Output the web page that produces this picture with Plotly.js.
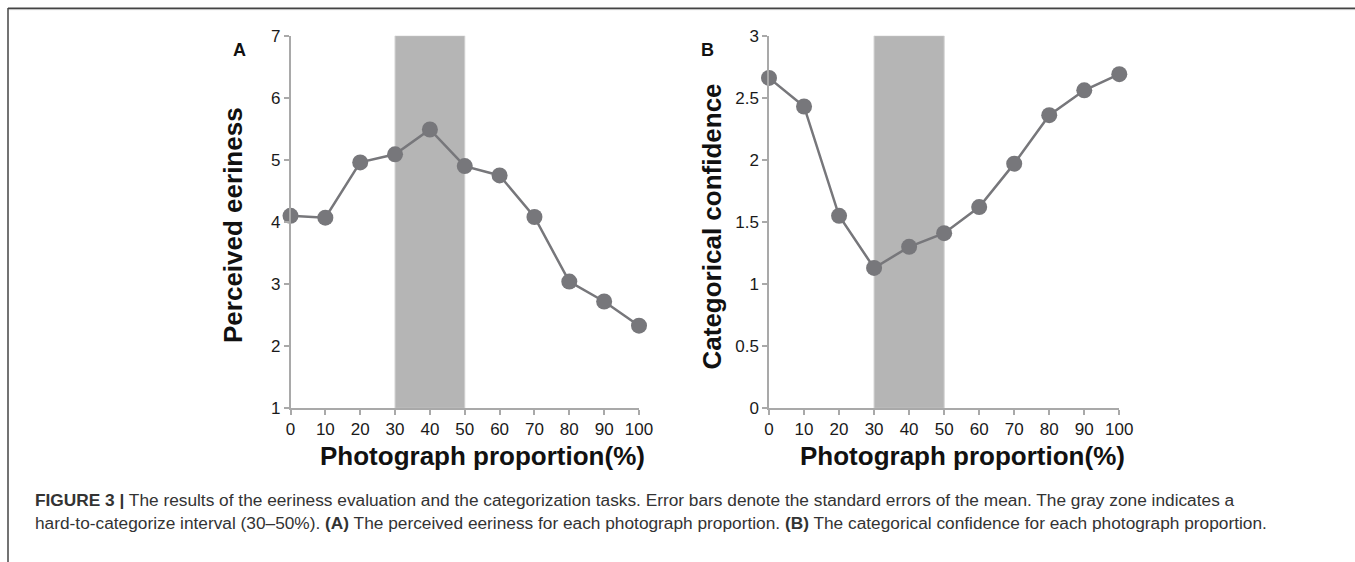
<!DOCTYPE html>
<html>
<head>
<meta charset="utf-8">
<script src="https://cdn.plot.ly/plotly-3.0.1.min.js"></script>
<style>html,body{margin:0;padding:0;background:#fff;}#chart{width:1355px;height:562px;}</style>
</head>
<body>
<div id="chart"></div>
<script>
// ---- data ----
const proportions = [0, 10, 20, 30, 40, 50, 60, 70, 80, 90, 100];
const eeriness = [4.10, 4.07, 4.96, 5.09, 5.49, 4.90, 4.75, 4.08, 3.04, 2.72, 2.33];
const confidence = [2.66, 2.43, 1.55, 1.13, 1.30, 1.41, 1.62, 1.97, 2.36, 2.56, 2.69];
const grayZone = [30, 50];
const xTicks = [0, 10, 20, 30, 40, 50, 60, 70, 80, 90, 100];
const eerinessTicks = [1, 2, 3, 4, 5, 6, 7];
const confidenceTicks = [0, 0.5, 1, 1.5, 2, 2.5, 3];
const confidenceTickText = ['0', '0.5', '1', '1.5', '2', '2.5', '3'];
const xTitle = 'Photograph proportion(%)';
const yTitleA = 'Perceived eeriness';
const yTitleB = 'Categorical confidence';
const panelLabels = ['A', 'B'];
const captionLine1 = '<b>FIGURE 3 |</b> The results of the eeriness evaluation and the categorization tasks. Error bars denote the standard errors of the mean. The gray zone indicates a';
const captionLine2 = 'hard-to-categorize interval (30–50%). <b>(A)</b> The perceived eeriness for each photograph proportion. <b>(B)</b> The categorical confidence for each photograph proportion.';

const W = 1355, H = 562;
const px = v => v / W;
const py = v => 1 - v / H;

const ptColor = '#77777b';
const axColor = '#a9a9a9';
const FONT = 'Liberation Sans, Arial, Helvetica, sans-serif';
const tickFont = {family: FONT, size: 17, color: '#1a1a1a'};
const titleFont = {family: FONT, size: 26, color: '#111'};

function trace(x, y, xa, ya) {
  return {
    x: x, y: y, xaxis: xa, yaxis: ya, type: 'scatter', mode: 'lines+markers',
    line: {color: ptColor, width: 2.5},
    marker: {color: ptColor, size: 16},
    cliponaxis: false, hoverinfo: 'x+y', showlegend: false
  };
}

const data = [
  trace(proportions, eeriness, 'x', 'y'),
  trace(proportions, confidence, 'x2', 'y2')
];

function xaxis(domain, anchor) {
  return {
    domain: domain, anchor: anchor, range: [0, 100], tickvals: xTicks,
    showline: true, linecolor: axColor, linewidth: 1.5, ticks: 'outside', ticklen: 5,
    tickcolor: axColor, tickwidth: 1.5, showgrid: false, zeroline: false, tickfont: tickFont
  };
}
function yaxis(domain, anchor, range, tv, tt) {
  return {
    domain: domain, anchor: anchor, range: range, tickvals: tv, ticktext: tt,
    showline: true, linecolor: axColor, linewidth: 1.5, ticks: 'outside', ticklen: 5,
    tickcolor: axColor, tickwidth: 1.5, showgrid: false, zeroline: false, tickfont: tickFont
  };
}

const yDom = [py(408.3), py(35.7)];

function label(text, x, y, size, angle) {
  return {text: '<b>' + text + '</b>', xref: 'paper', yref: 'paper', x: px(x), y: py(y),
          xanchor: 'center', yanchor: 'middle', showarrow: false, textangle: angle || 0,
          font: {family: FONT, size: size, color: '#111'}};
}

const layout = {
  width: W, height: H,
  margin: {l: 0, r: 0, t: 0, b: 0},
  paper_bgcolor: '#fff', plot_bgcolor: 'rgba(0,0,0,0)',
  showlegend: false,
  xaxis: xaxis([px(290.5), px(639)], 'y'),
  yaxis: yaxis(yDom, 'x', [1, 7], eerinessTicks, eerinessTicks.map(String)),
  xaxis2: xaxis([px(769), px(1119.3)], 'y2'),
  yaxis2: yaxis(yDom, 'x2', [0, 3], confidenceTicks, confidenceTickText),
  shapes: [
    {type: 'rect', xref: 'x', yref: 'y', x0: grayZone[0], x1: grayZone[1], y0: 1, y1: 7,
     fillcolor: '#b5b5b5', line: {color: '#cfcfcf', width: 1}, layer: 'below'},
    {type: 'rect', xref: 'x2', yref: 'y2', x0: grayZone[0], x1: grayZone[1], y0: 0, y1: 3,
     fillcolor: '#b5b5b5', line: {color: '#cfcfcf', width: 1}, layer: 'below'},
    {type: 'line', xref: 'paper', yref: 'paper', x0: px(8), x1: 1, y0: py(8.3), y1: py(8.3),
     line: {color: '#444', width: 1.5}},
    {type: 'line', xref: 'paper', yref: 'paper', x0: px(8.5), x1: 1, y0: py(9.6), y1: py(9.6),
     line: {color: '#bbb', width: 1}},
    {type: 'line', xref: 'paper', yref: 'paper', x0: px(8), x1: px(8), y0: py(8), y1: 0,
     line: {color: '#444', width: 1.5}}
  ],
  annotations: [
    label(panelLabels[0], 240, 50, 18),
    label(panelLabels[1], 707, 50, 18),
    label(xTitle, 482.5, 456, 26),
    label(xTitle, 962.5, 456, 26),
    label(yTitleA, 233, 225, 26, -90),
    label(yTitleB, 711, 226.5, 26, -90),
    {text: captionLine1, xref: 'paper', yref: 'paper', x: px(33), y: py(500), xanchor: 'left', yanchor: 'middle',
     showarrow: false, font: {family: FONT, size: 17.3, color: '#333'}},
    {text: captionLine2, xref: 'paper', yref: 'paper', x: px(33), y: py(523), xanchor: 'left', yanchor: 'middle',
     showarrow: false, font: {family: FONT, size: 17.3, color: '#333'}}
  ]
};

Plotly.newPlot('chart', data, layout, {displayModeBar: false, responsive: false});
</script>
</body>
</html>
